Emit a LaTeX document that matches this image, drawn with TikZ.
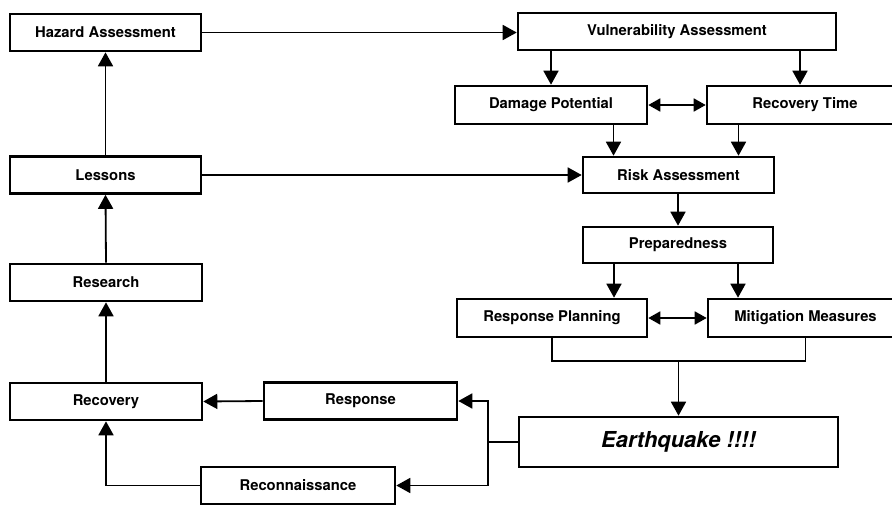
\documentclass[tikz,border=0pt]{standalone}
\usepackage{fontspec}
\setmainfont{TeX Gyre Heros}
\usetikzlibrary{arrows.meta}

\begin{document}
\begin{tikzpicture}[x=1pt,y=-1pt]
  \def\bh{37pt}          % box height
  \def\ymerge{361}       % y of the joining line
  \def\xsplit{488}       % x of the split after the quake

  \tikzstyle{box}=[draw,line width=2.6pt,minimum height=\bh,inner sep=0pt,
    font=\fontsize{14.8}{16}\selectfont\bfseries]
  \tikzstyle{link}=[line width=1.8pt]
  \tikzstyle{arr}=[link,-{Triangle[length=14pt,width=15pt]}]
  \tikzstyle{both}=[link,{Triangle[length=12pt,width=13pt]}-{Triangle[length=12pt,width=13pt]}]

  \fill[white] (0,0) rectangle (892,506);
  \useasboundingbox (0,0) rectangle (892,506);

  % LEFT COLUMN
  \node[box,minimum width=191pt] (hazard)   at (105.5,32.5) {Hazard Assessment};
  \node[box,minimum width=191pt] (lessons)  at (105.5,175)  {Lessons};
  \node[box,minimum width=192pt] (research) at (106,282.5)  {Research};
  \node[box,minimum width=192pt] (recovery) at (106,401.5)  {Recovery};
  \node[box,minimum width=193pt] (response) at (360.5,401)  {Response};
  \node[box,minimum width=194pt] (recon)    at (298,485.5)  {Reconnaissance};

  % RIGHT COLUMN
  \node[box,minimum width=318pt] (vuln)     at (677,31.5)   {Vulnerability Assessment};
  \node[box,minimum width=192pt,minimum height=38pt] (damage)  at (551,105) {Damage Potential};
  \node[box,minimum width=196pt,minimum height=38pt] (rectime) at (805,105) {Recovery Time};
  \node[box,minimum width=191pt,minimum height=36pt] (risk)    at (678.5,175) {Risk Assessment};
  \node[box,minimum width=190pt,minimum height=36pt] (prep)    at (678,245)   {Preparedness};
  \node[box,minimum width=190pt,minimum height=38pt] (resplan) at (552,318)   {Response Planning};
  \node[box,minimum width=195pt,minimum height=38pt] (mitig)   at (805.5,318) {Mitigation Measures};
  \node[box,minimum width=319pt,minimum height=50pt,
    font=\fontsize{22}{24}\selectfont\bfseries\itshape] (quake) at (678.5,442) {Earthquake !!!!};

  % CONNECTORS
  \draw[arr] (hazard.east) -- (hazard.east -| vuln.west);
  \draw[arr] (lessons.north) -- (hazard.south);
  \draw[arr] (research.north) -- (lessons.south);
  \draw[arr] (recovery.north) -- (research.south);
  \draw[arr] (lessons.east) -- (risk.west);

  \draw[arr] (vuln.south -| damage.north) -- (damage.north);
  \draw[arr] ([xshift=-5pt]vuln.south -| rectime.north) -- ([xshift=-5pt]rectime.north);
  \draw[both] (damage.east) -- (rectime.west);
  \draw[arr] ([xshift=-65pt]risk.north |- damage.south) -- ([xshift=-65pt]risk.north);
  \draw[arr] ([xshift=60pt]risk.north |- rectime.south) -- ([xshift=60pt]risk.north);
  \draw[arr] (risk.south -| prep.north) -- (prep.north);
  \draw[arr] ([xshift=-64pt]prep.south) -- ([xshift=-64pt]prep.south |- resplan.north);
  \draw[arr] ([xshift=60pt]prep.south) -- ([xshift=60pt]prep.south |- mitig.north);
  \draw[both] (resplan.east) -- (mitig.west);

  \coordinate (merge) at (quake.north |- 0,\ymerge);
  \draw[link] (resplan.south) |- (merge) -| (mitig.south);
  \draw[arr] (merge) -- (quake.north);

  \coordinate (split) at (\xsplit,0 |- quake.west);
  \draw[link] (quake.west) -- (split);
  \draw[arr] (split) |- (response.east);
  \draw[arr] (split) |- (recon.east);
  \draw[arr] (response.west) -- (recovery.east);
  \draw[arr] (recon.west) -| (recovery.south);
\end{tikzpicture}
\end{document}
